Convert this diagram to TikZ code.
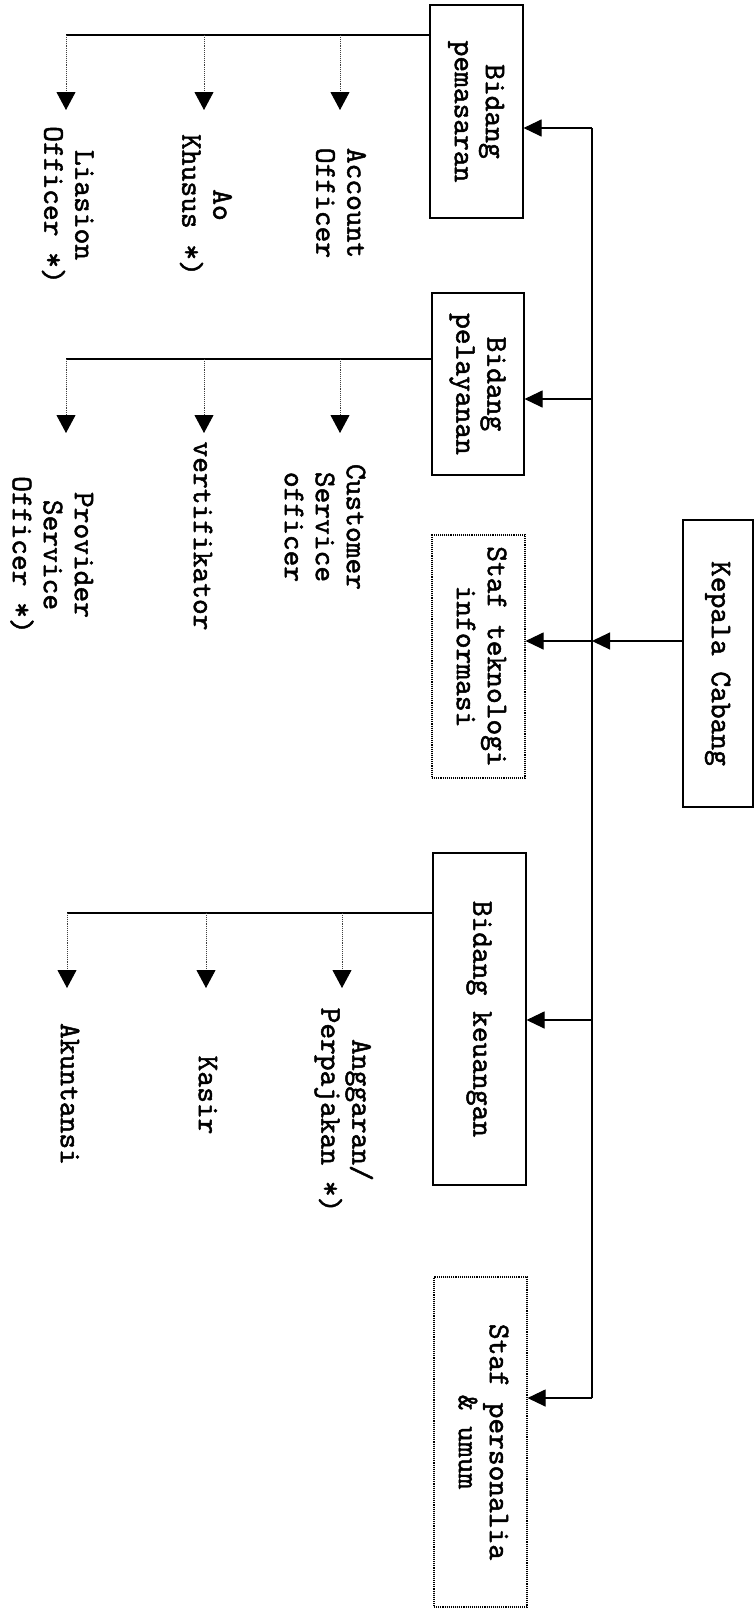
\documentclass[tikz,border=0pt]{standalone}
\usepackage{fontspec}
\setmonofont{lmmono10-regular.otf}[FakeBold=1.6]
\usetikzlibrary{arrows.meta}
\newcommand{\rt}[1]{\rotatebox{-90}{\begin{tabular}{@{}c@{}}#1\end{tabular}}}
\begin{document}
\begin{tikzpicture}[x=1pt,y=-1pt,
  every node/.style={font=\fontsize{30}{31}\selectfont\ttfamily, inner sep=0pt, text=black},
  box/.style={draw, line width=1.1pt},
  dotbox/.style={draw, densely dotted, line width=1.1pt},
  link/.style={line width=1.1pt},
  arr/.style={line width=1.1pt, -{Triangle[length=18pt,width=17pt]}},
  darr/.style={densely dotted, line width=0.9pt, draw=black!75, -{Triangle[length=18pt,width=19pt,fill=black,color=black]}}
]
\useasboundingbox (0,0) rectangle (755,1609);
\fill[white] (0,0) rectangle (755,1609);

% boxes
\node[box, minimum width=70, minimum height=287] (kep) at (718,663.5) {\rt{Kepala Cabang}};
\node[box, minimum width=93, minimum height=213] (pem) at (476.5,111.5) {\rt{Bidang\\pemasaran}};
\node[box, minimum width=92, minimum height=182] (pel) at (478,384) {\rt{Bidang\\pelayanan}};
\node[dotbox, minimum width=93, minimum height=243] (tek) at (478.5,656.5) {\rt{Staf teknologi\\informasi}};
\node[box, minimum width=93, minimum height=332] (keu) at (479.5,1019) {\rt{Bidang keuangan}};
\node[dotbox, minimum width=93, minimum height=330] (per) at (480.5,1442) {\rt{Staf personalia\\\& umum}};

% children
\node (acc) at (338,203) {\rt{Account\\Officer}};
\node (aok) at (204,205) {\rt{Ao\\Khusus *)}};
\node (lia) at (66,205) {\rt{Liasion\\Officer *)}};
\node (cso) at (322,527) {\rt{Customer\\Service\\officer}};
\node (ver) at (200,536) {\rt{vertifikator}};
\node (pso) at (50,555) {\rt{Provider\\Service\\Officer *)}};
\node (ang) at (343,1110) {\rt{Anggaran/\\Perpajakan *)}};
\node (kas) at (205,1095) {\rt{Kasir}};
\node (aku) at (67,1094) {\rt{Akuntansi}};

% main bus
\coordinate (btop) at (592,128);
\coordinate (bbot) at (592,1398);
\coordinate (b2) at (592,399);
\coordinate (b4) at (592,1020);
\coordinate (jk) at (592,641);
\draw[link] (btop) -- (bbot);
\draw[arr] (btop) -- (pem.east |- btop);
\draw[arr] (b2) -- (pel.east |- b2);
\draw[arr] (b4) -- (keu.east |- b4);
\draw[arr] (bbot) -- (per.east |- bbot);
\draw[arr] (kep.west |- jk) -- (jk);
\draw[arr] (jk) -- (tek.east |- jk);

% pemasaran group
\coordinate (m1) at (340,35); \coordinate (m2) at (204,35); \coordinate (m3) at (66,35);
\draw[link] (pem.west |- m3) -- (m3);
\coordinate (m1t) at (340,110); \coordinate (m2t) at (204,110); \coordinate (m3t) at (66,110);
\draw[darr] (m1) -- (m1t);
\draw[darr] (m2) -- (m2t);
\draw[darr] (m3) -- (m3t);

% pelayanan group
\coordinate (l1) at (340,359); \coordinate (l2) at (204,359); \coordinate (l3) at (66,359);
\draw[link] (pel.west |- l3) -- (l3);
\coordinate (l1t) at (340,433); \coordinate (l2t) at (204,433); \coordinate (l3t) at (66,433);
\draw[darr] (l1) -- (l1t);
\draw[darr] (l2) -- (l2t);
\draw[darr] (l3) -- (l3t);

% keuangan group
\coordinate (k1) at (342,913); \coordinate (k2) at (206,913); \coordinate (k3) at (67,913);
\draw[link] (keu.west |- k3) -- (k3);
\coordinate (k1t) at (342,988); \coordinate (k2t) at (206,988); \coordinate (k3t) at (67,988);
\draw[darr] (k1) -- (k1t);
\draw[darr] (k2) -- (k2t);
\draw[darr] (k3) -- (k3t);
\end{tikzpicture}
\end{document}
